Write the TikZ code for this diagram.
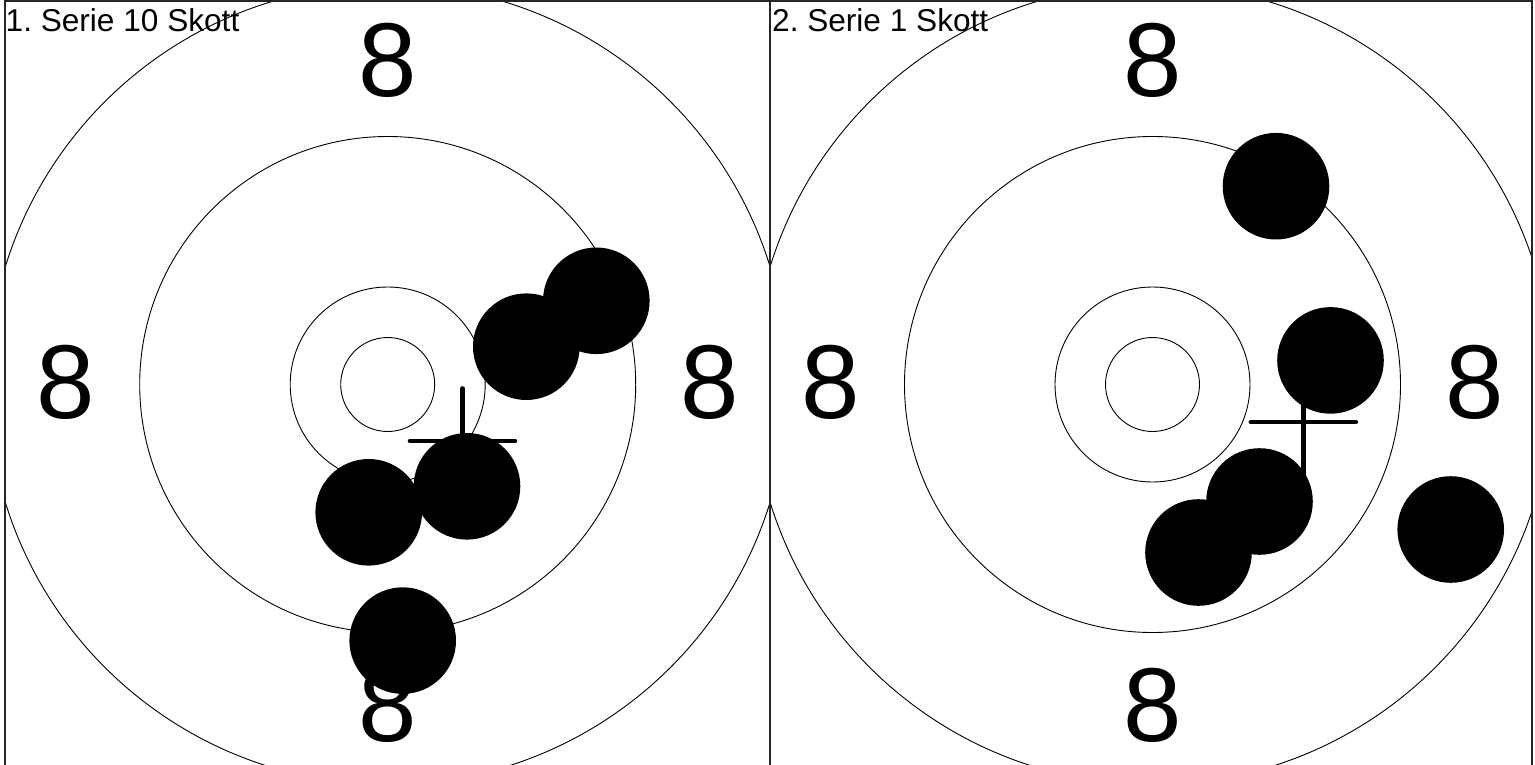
\documentclass[tikz,border=0pt]{standalone}
\usepackage{fontspec}
\setmainfont{Liberation Sans}
\begin{document}
\begin{tikzpicture}[x=1pt,y=-1pt,
  ring/.style={draw=black,line width=0.9pt},
  shot/.style={fill=black},
  aim/.style={draw=black,line width=4.6pt,line cap=round},
  ringnum/.style={inner sep=0pt,font=\fontsize{105}{105}\selectfont},
  paneltitle/.style={inner sep=0pt,anchor=base west,
                     font=\fontsize{31.6}{32}\selectfont\frenchspacing},
  frame/.style={draw=black!85,line width=1.8pt}
]
\useasboundingbox (0,0) rectangle (1535,765);
% target rings, clipped to each panel
\foreach \cx/\xl/\xr in {387.7/5/770,1152.5/770/1532}{
  \begin{scope}
    \clip (\xl,1) rectangle (\xr,770);
    \foreach \r in {47,97.5,248,400}
      \draw[ring] (\cx,384.5) circle[radius=\r pt];
  \end{scope}
}
% ring numbers
\foreach \cx/\p in {387.7/1,1152.5/2}{
  \node[ringnum] (top\p)   at (\cx,60.5)      {8};
  \node[ringnum] (bot\p)   at (\cx,705)       {8};
  \node[ringnum] (left\p)  at (\cx-322,382.5) {8};
  \node[ringnum] (right\p) at (\cx+322,382.5) {8};
}
% panel titles
\node[paneltitle] (title1) at (5.5,31.7) {1. Serie 10 Skott};
\node[paneltitle] (title2) at (772,31.7) {2. Serie 1 Skott};
% mean point of impact
\foreach \mx/\my in {462.5/441,1303.3/422}{
  \draw[aim] (\mx-52.5,\my) -- (\mx+52.5,\my);
  \draw[aim] (\mx,\my-52.5) -- (\mx,\my+52.5);
}
% shots
\foreach \sx/\sy in {596.3/300.8,526.3/346.7,368.7/512.3,467/486.3,402.7/640.6,
                     1276/186.2,1330.5/360.4,1259.5/501.5,1198.5/552.5,1450.7/529.5}
  \fill[shot] (\sx,\sy) circle[radius=53.3pt];
% frame
\draw[frame] (5,767) -- (5,1.2) -- (1532,1.2) -- (1532,767);
\draw[frame] (770,1.2) -- (770,767);
\end{tikzpicture}
\end{document}
